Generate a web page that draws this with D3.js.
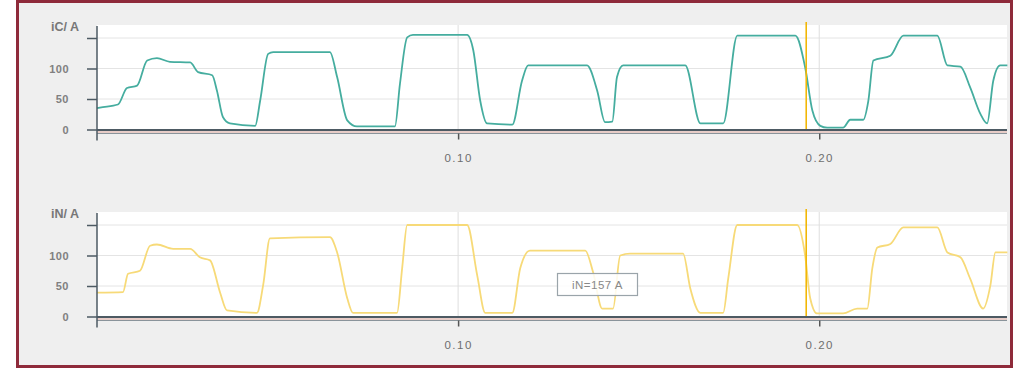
<!DOCTYPE html>
<html>
<head>
<meta charset="utf-8">
<script src="https://cdn.jsdelivr.net/npm/d3@7"></script>
<style>
html,body{margin:0;padding:0;background:#fff;}
svg{display:block;}
text{font-family:"Liberation Sans",Arial,sans-serif;}
</style>
</head>
<body>
<svg id="chart" width="1020" height="371"></svg>
<script>
// ---- data ----
const timeC = [0,0.0008,0.0058,0.0083,0.0111,0.0139,0.0166,0.0202,0.0258,0.0280,0.0319,0.0332,0.0349,0.0368,0.0438,0.0452,0.0474,0.0488,0.0645,0.0665,0.0693,0.0720,0.0825,0.0839,0.0859,0.0875,0.1025,0.1042,0.1061,0.1080,0.1150,0.1177,0.1194,0.1357,0.1385,0.1407,0.1427,0.1440,0.1457,0.1629,0.1671,0.1734,0.1773,0.1934,0.1961,0.1981,0.2003,0.2022,0.2066,0.2086,0.2122,0.2136,0.2150,0.2197,0.2233,0.2327,0.2355,0.2391,0.2418,0.2446,0.2465,0.2482,0.2501,0.2521];
const valuesC = [35,36,41,68,72,113,117,111,110,94,89,64,20,10,6,48,124,127,127,86,15,5,5,75,151,155,155,130,48,10,8,80,105,105,64,12,13,86,105,105,10,10,154,154,102,31,6,3,3,16,16,47,113,121,154,154,105,103,69,26,10,80,105,105];
const timeN = [0,0.0072,0.0086,0.0119,0.0147,0.0166,0.0211,0.0258,0.0285,0.0313,0.0341,0.0360,0.0443,0.0460,0.0479,0.0645,0.0665,0.0693,0.0709,0.0831,0.0845,0.0859,0.1025,0.1053,0.1075,0.1150,0.1172,0.1199,0.1352,0.1374,0.1399,0.1429,0.1449,0.1476,0.1623,0.1643,0.1671,0.1734,0.1748,0.1773,0.1939,0.1961,0.1975,0.1994,0.2066,0.2105,0.2133,0.2147,0.2161,0.2197,0.2233,0.2327,0.2355,0.2391,0.2418,0.2454,0.2474,0.2488,0.2521];
const valuesN = [39,40,70,75,116,118,111,111,97,92,39,10,6,51,128,130,105,30,6,6,79,150,150,67,6,6,79,108,108,72,13,13,100,103,103,46,6,6,62,150,150,100,30,5,5,13,13,79,113,119,146,146,105,97,62,13,51,105,105];
const yTicks = [0,50,100,150];
const yTickLabels = ["0","50","100",""];
const xTicks = [0.10,0.20];
const xTickLabels = ["0.10","0.20"];
const cursorTime = 0.1964;
const tooltipText = "iN=157 A";
const panelLabels = ["iC/ A","iN/ A"];

// ---- layout ----
const svg = d3.select("#chart");
const x = d3.scaleLinear().domain([0,0.252]).range([97,1007]);

// frame
svg.append("rect").attr("x",17.5).attr("y",1.5).attr("width",994).attr("height",365)
  .attr("fill","#efefef").attr("stroke","#8e2a3a").attr("stroke-width",3);

const panels = [
  {top:25, zero:129.5, label:panelLabels[0], time:timeC, vals:valuesC, color:"#45ad9f", width:1.8},
  {top:212, zero:316.5, label:panelLabels[1], time:timeN, vals:valuesN, color:"#f7da78", width:1.8}
];

panels.forEach((p,i)=>{
  const y = d3.scaleLinear().domain([0,150]).range([p.zero, p.zero-91.5]);
  const g = svg.append("g");
  g.append("rect").attr("x",x(0)).attr("y",p.top).attr("width",x(0.252)-x(0)).attr("height",p.zero-p.top)
    .attr("fill","#ffffff");
  g.selectAll("line.hg").data(yTicks.slice(1)).join("line")
    .attr("x1",x(0)).attr("x2",x(0.252)).attr("y1",d=>y(d)).attr("y2",d=>y(d))
    .attr("stroke","#e4e4e4").attr("stroke-width",1);
  g.selectAll("line.vg").data(xTicks).join("line")
    .attr("x1",d=>x(d)).attr("x2",d=>x(d)).attr("y1",p.top).attr("y2",p.zero)
    .attr("stroke","#dedede").attr("stroke-width",1);
  const pts = p.time.map((t,k)=>[t,p.vals[k]]);
  const line = d3.line().x(d=>x(d[0])).y(d=>y(d[1])).curve(d3.curveMonotoneX);
  g.append("path").datum(pts).attr("d",line).attr("fill","none")
    .attr("stroke",p.color).attr("stroke-width",p.width).attr("stroke-linejoin","round");
  g.append("line").attr("x1",x(cursorTime)).attr("x2",x(cursorTime))
    .attr("y1",p.top-3).attr("y2",p.zero+1)
    .attr("stroke","#f2b705").attr("stroke-width",1.6);
  g.append("line").attr("x1",x(0)).attr("x2",x(0.252)).attr("y1",p.zero+0.5).attr("y2",p.zero+0.5)
    .attr("stroke","#4d5a63").attr("stroke-width",2);
  g.append("line").attr("x1",x(0)).attr("x2",x(0.252)).attr("y1",p.zero+2.5).attr("y2",p.zero+2.5)
    .attr("stroke","#e0aaa0").attr("stroke-width",1.2);
  g.append("line").attr("x1",x(0)).attr("x2",x(0.252)).attr("y1",p.zero+4).attr("y2",p.zero+4)
    .attr("stroke","#8a949b").attr("stroke-width",1);
  const ya = d3.axisLeft(y).tickValues(yTicks).tickFormat((d,k)=>yTickLabels[k]).tickSize(10).tickPadding(18);
  const yg = g.append("g").attr("transform",`translate(${x(0)},0)`).call(ya);
  yg.select(".domain").remove();
  yg.selectAll(".tick line").attr("stroke","#4d5a63").attr("stroke-width",1.5);
  yg.selectAll(".tick text").attr("fill","#808080").attr("font-size",11).attr("font-weight","bold")
    .style("letter-spacing","0.5px");
  g.append("line").attr("x1",x(0)).attr("x2",x(0)).attr("y1",p.top+1).attr("y2",p.zero+11)
    .attr("stroke","#4d5a63").attr("stroke-width",1.5);
  const xa = d3.axisBottom(x).tickValues(xTicks).tickFormat((d,k)=>xTickLabels[k]).tickSize(6).tickPadding(14);
  const xg = g.append("g").attr("transform",`translate(0,${p.zero+4})`).call(xa);
  xg.select(".domain").remove();
  xg.selectAll(".tick line").attr("stroke","#555").attr("stroke-width",1.5);
  xg.selectAll(".tick text").attr("fill","#6e6e6e").attr("font-size",11.5)
    .style("letter-spacing","1.5px");
  g.append("text").attr("x",79).attr("y",p.top+6).attr("text-anchor","end")
    .attr("fill","#777").attr("font-size",12.5).attr("font-weight","bold")
    .text(p.label);
});

const tg = svg.append("g");
tg.append("rect").attr("x",557.5).attr("y",273.5).attr("width",80).attr("height",22)
  .attr("fill","#ffffff").attr("fill-opacity",0.85).attr("stroke","#9aa4aa").attr("stroke-width",1.2);
tg.append("text").attr("x",597.5).attr("y",289).attr("text-anchor","middle")
  .attr("fill","#888").attr("font-size",11.5).style("letter-spacing","0.5px").text(tooltipText);
</script>
</body>
</html>
